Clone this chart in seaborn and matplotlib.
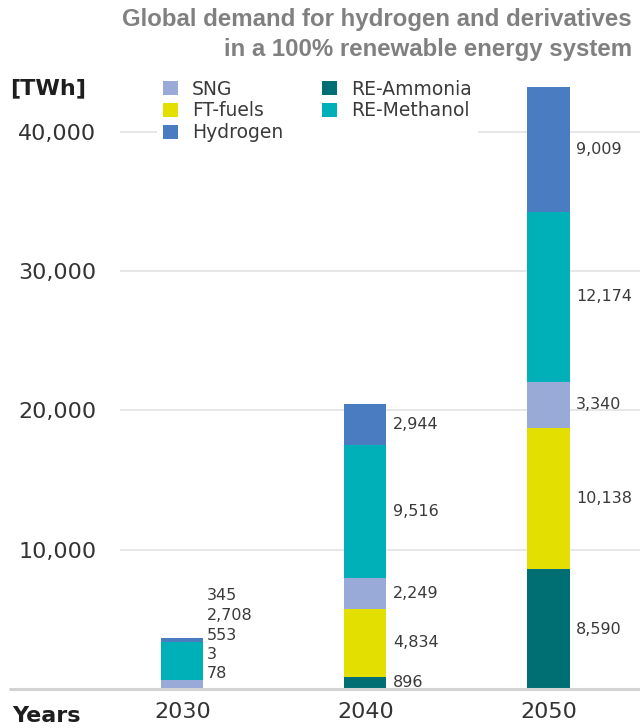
import numpy as np
import pandas as pd
import seaborn as sns
import matplotlib.pyplot as plt
from matplotlib.patches import Patch

# Data (TWh), stacked bottom -> top
years = ["2030", "2040", "2050"]
re_ammonia = [78, 896, 8590]
ft_fuels = [3, 4834, 10138]
sng = [553, 2249, 3340]
re_methanol = [2708, 9516, 12174]
hydrogen = [345, 2944, 9009]

series_names = ["RE-Ammonia", "FT-fuels", "SNG", "RE-Methanol", "Hydrogen"]
series_values = [re_ammonia, ft_fuels, sng, re_methanol, hydrogen]
colors = {
    "SNG": "#99aad8",
    "FT-fuels": "#e3df00",
    "Hydrogen": "#4a7cc2",
    "RE-Ammonia": "#006f73",
    "RE-Methanol": "#00b0b9",
}
legend_order = ["SNG", "FT-fuels", "Hydrogen", "RE-Ammonia", "RE-Methanol"]

sns.set_theme(style="white")
plt.rcParams["font.family"] = ["DejaVu Sans"]

fig = plt.figure(figsize=(6.4, 7.28), dpi=100)
ax = fig.add_axes([120 / 640, 39 / 728, 520 / 640, 609 / 728])

# cumulative tops, drawn from the highest layer down so lower layers cover
vals = np.array(series_values, dtype=float)
tops = vals.cumsum(axis=0)
bar_w = 0.23
for i in range(len(series_names) - 1, -1, -1):
    df = pd.DataFrame({"year": years, "top": tops[i]})
    sns.barplot(data=df, x="year", y="top", color=colors[series_names[i]],
                width=bar_w, saturation=1, linewidth=0, ax=ax)

txt_color = "#3a3a3a"
# value labels for 2040 and 2050 at segment middles
bottoms = tops - vals
for j in (1, 2):
    for i in range(len(series_names)):
        mid = bottoms[i, j] + vals[i, j] / 2
        ax.text(j + bar_w / 2 + 0.035, mid, f"{int(vals[i, j]):,}",
                ha="left", va="center", fontsize=11.5, color=txt_color)

# 2030 segments are too thin: stack the labels above the baseline
for k, i in enumerate(range(len(series_names))):
    ax.annotate(f"{int(vals[i, 0]):,}", xy=(0 + bar_w / 2 + 0.02, 0),
                xytext=(0, 15 + 19.5 * k), textcoords="offset pixels",
                ha="left", va="center", fontsize=11.5, color=txt_color)

ax.set_xlim(-0.34, 2.5)
ax.set_ylim(0, 43734)
ax.set_yticks([10000, 20000, 30000, 40000])
ax.set_yticklabels(["10,000", "20,000", "30,000", "40,000"])
ax.yaxis.grid(True, color="#e3e3e3", linewidth=1.2)
ax.set_axisbelow(True)
ax.tick_params(axis="y", length=0, pad=17, labelsize=16, labelcolor="#333333")
ax.tick_params(axis="x", length=0, pad=9, labelsize=16, labelcolor="#333333")
ax.set_xlabel("")
ax.set_ylabel("")
for s in ax.spines.values():
    s.set_visible(False)

# baseline running under the "Years" label
ax.axhline(0, xmin=-110 / 520, xmax=1, color="#d2d2d2", linewidth=2.2,
           clip_on=False, zorder=5)

handles = [Patch(facecolor=colors[n], edgecolor="none", label=n) for n in legend_order]
leg = fig.legend(handles=handles, ncol=2, loc="upper left",
                 bbox_to_anchor=(157 / 640, 1 - 74 / 728), frameon=True,
                 fontsize=13.5, handlelength=0.8, handleheight=0.75,
                 handletextpad=0.75, columnspacing=2.1, labelspacing=0.15,
                 borderpad=0.3, borderaxespad=0)
leg.get_frame().set_facecolor("white")
leg.get_frame().set_edgecolor("none")
leg.get_frame().set_alpha(1)
for t in leg.get_texts():
    t.set_color(txt_color)

fig.text(632 / 640, 1 - 8 / 728,
         "Global demand for hydrogen and derivatives\nin a 100% renewable energy system",
         ha="right", va="top", fontsize=17.3, fontweight="bold", color="#808080",
         family=["Liberation Sans", "DejaVu Sans"], linespacing=1.4,
         multialignment="right")
fig.text(10 / 640, 1 - 88 / 728, "[TWh]", ha="left", va="center",
         fontsize=16, fontweight="bold", color="#1e1e1e")
fig.text(12 / 640, 1 - 716 / 728, "Years", ha="left", va="center",
         fontsize=16, fontweight="bold", color="#1e1e1e")

fig.savefig("out.png", dpi=100)
